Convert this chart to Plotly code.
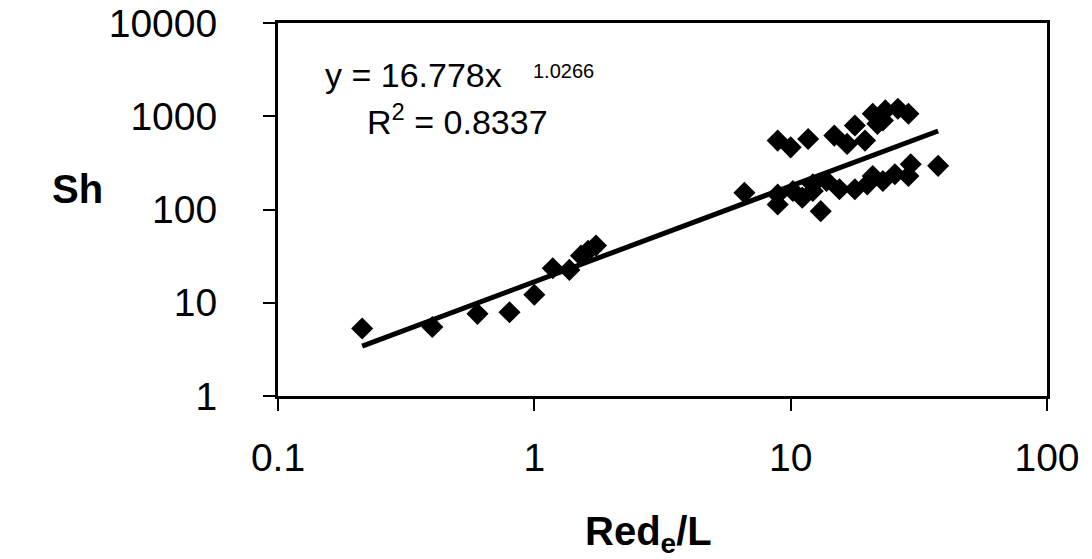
import numpy as np
import plotly.graph_objects as go

# Data
re_vals = [0.213, 0.40, 0.60, 0.80, 1.00, 1.18, 1.37, 1.52, 1.62, 1.74,
           6.6,
           8.9, 10.0, 11.7, 14.8, 16.6, 17.8, 19.5, 20.9, 21.8, 22.9, 23.4, 26.2, 28.8,
           8.9, 8.9, 10.2, 11.1, 12.2, 12.2, 13.1, 13.8, 15.5, 17.8, 19.9, 20.9, 22.9,
           25.5, 29.4, 28.8, 37.6]
sh_vals = [5.3, 5.5, 7.6, 7.9, 12.2, 23.4, 22.5, 32, 36, 41,
           151,
           548, 464, 571, 620, 505, 795, 548, 1064, 829, 901, 1156, 1205, 1064,
           145, 113, 158, 134, 186, 158, 96, 202, 165, 165, 186, 229, 202,
           239, 306, 229, 294]

fit_a = 16.778
fit_b = 1.0266
fit_x = [0.213, 37.6]
x_ticks = [0.1, 1, 10, 100]
x_tick_text = ["0.1", "1", "10", "100"]
y_ticks = [1, 10, 100, 1000, 10000]
y_tick_text = ["1", "10", "100", "1000", "10000"]

xf = np.logspace(np.log10(fit_x[0]), np.log10(fit_x[1]), 50)
yf = fit_a * xf ** fit_b

fig = go.Figure()
fig.add_trace(go.Scatter(x=re_vals, y=sh_vals, mode="markers",
                         marker=dict(symbol="diamond", size=17, color="black",
                                     line=dict(width=0)),
                         showlegend=False))
fig.add_trace(go.Scatter(x=xf, y=yf, mode="lines",
                         line=dict(color="black", width=5), showlegend=False))

font = "Liberation Sans, Arial, sans-serif"
fig.update_layout(
    width=1092, height=559,
    margin=dict(l=278, r=45, t=23, b=163),
    paper_bgcolor="white", plot_bgcolor="white",
    font=dict(family=font, color="black"),
    xaxis=dict(type="log", range=[-1, 2], tickvals=x_ticks, ticktext=x_tick_text,
               showgrid=False, zeroline=False, showline=True, mirror=True,
               linecolor="black", linewidth=3, ticks="outside", ticklen=12,
               tickwidth=1.5, tickcolor="black", tickfont=dict(size=39),
               ticklabelstandoff=13, automargin=False),
    yaxis=dict(type="log", range=[0, 4], tickvals=y_ticks, ticktext=y_tick_text,
               showgrid=False, zeroline=False, showline=True, mirror=True,
               linecolor="black", linewidth=3, ticks="outside", ticklen=12,
               tickwidth=1.5, tickcolor="black", tickfont=dict(size=39),
               ticklabelstandoff=38, automargin=False),
)

fig.add_annotation(text="<b>Sh</b>", xref="paper", yref="paper", x=-0.261, y=0.555,
                   xanchor="center", yanchor="middle", showarrow=False,
                   font=dict(size=40))
fig.add_annotation(text="<b>Red<sub>e</sub>/L</b>", xref="paper", yref="paper",
                   x=0.482, y=-0.37, xanchor="center", yanchor="middle",
                   showarrow=False, font=dict(size=40))
fig.add_annotation(text="y = 16.778x", xref="paper", yref="paper", x=0.176, y=0.86,
                   xanchor="center", yanchor="middle", showarrow=False,
                   font=dict(size=34))
fig.add_annotation(text="1.0266", xref="paper", yref="paper", x=0.371, y=0.872,
                   xanchor="center", yanchor="middle", showarrow=False,
                   font=dict(size=20))
fig.add_annotation(text="R<sup>2</sup> = 0.8337", xref="paper", yref="paper",
                   x=0.233, y=0.74, xanchor="center", yanchor="middle",
                   showarrow=False, font=dict(size=34))

fig.write_html("out.html")
